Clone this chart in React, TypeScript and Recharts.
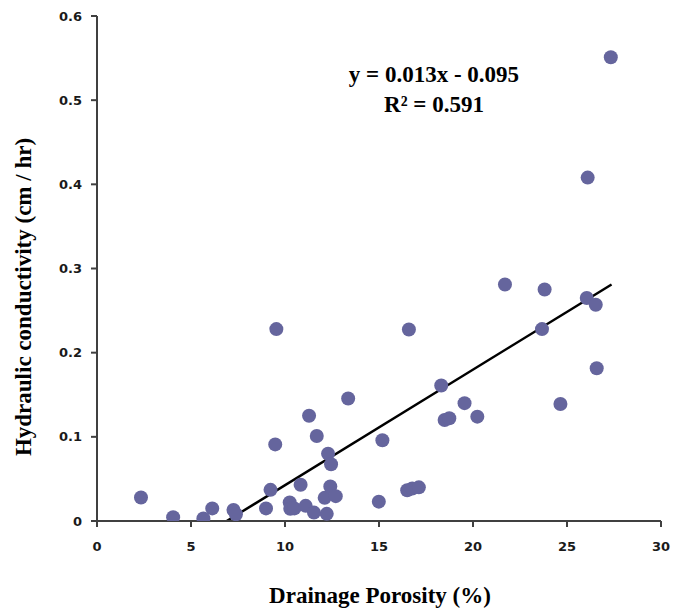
import React from 'react';
import { ScatterChart, Scatter, XAxis, YAxis, ReferenceLine } from 'recharts';

const porosity = [
  2.34, 4.05, 5.66, 6.13, 7.26, 7.39, 8.99, 9.23, 9.48, 9.54,
  10.25, 10.28, 10.5, 10.83, 11.1, 11.28, 11.54, 11.69, 12.22, 12.11,
  12.29, 12.45, 12.41, 12.7, 13.36, 14.99, 15.18, 16.59, 16.5, 16.77,
  17.12, 18.31, 18.49, 18.74, 19.55, 20.23, 21.7, 23.81, 23.67, 24.65,
  26.05, 26.53, 26.58, 27.33, 26.1,
];
const conductivity = [
  0.028, 0.0045, 0.003, 0.015, 0.013, 0.008, 0.015, 0.037, 0.091, 0.228,
  0.022, 0.0145, 0.015, 0.043, 0.018, 0.125, 0.01, 0.101, 0.0085, 0.0275,
  0.08, 0.0675, 0.041, 0.0295, 0.1455, 0.023, 0.096, 0.2275, 0.0366, 0.0386,
  0.04, 0.161, 0.12, 0.122, 0.14, 0.124, 0.281, 0.275, 0.228, 0.139,
  0.265, 0.257, 0.1815, 0.551, 0.408,
];
const trendStart = { x: 6.9, y: 0 };
const trendEnd = { x: 27.37, y: 0.281 };
const xTicks = [0, 5, 10, 15, 20, 25, 30];
const yTicks = [0, 0.1, 0.2, 0.3, 0.4, 0.5, 0.6];
const equationText = 'y = 0.013x - 0.095';
const r2Text = 'R² = 0.591';
const xTitle = 'Drainage Porosity (%)';
const yTitle = 'Hydraulic conductivity (cm / hr)';

const points = porosity.map((x, i) => ({ x, y: conductivity[i] }));

const axisColor = '#404040';
const tickStyle = { fill: '#1a1a1a', fontSize: 13, fontFamily: 'DejaVu Sans', fontWeight: 'bold' as const };
const titleFont = { fontFamily: 'Liberation Serif', fontWeight: 'bold' as const, fontSize: 23, fill: '#000' };

const Dot = (p: any) => <circle cx={p.cx} cy={p.cy} r={7} fill="#65659d" />;

export default function App() {
  return (
    <div style={{ position: 'absolute', left: 0, top: 0, width: 673, height: 613, background: '#fff' }}>
      <ScatterChart width={673} height={613} margin={{ top: 16, right: 12, bottom: 0, left: 0 }}>
        <XAxis
          type="number"
          dataKey="x"
          domain={[0, 30]}
          ticks={xTicks}
          height={92}
          tickSize={6}
          tickMargin={15}
          tick={tickStyle}
          axisLine={{ stroke: axisColor, strokeWidth: 2 }}
          tickLine={{ stroke: axisColor, strokeWidth: 2 }}
          allowDataOverflow
        />
        <YAxis
          type="number"
          dataKey="y"
          domain={[0, 0.6]}
          ticks={yTicks}
          width={97}
          tickSize={6}
          tickMargin={9}
          tick={tickStyle}
          axisLine={{ stroke: axisColor, strokeWidth: 2 }}
          tickLine={{ stroke: axisColor, strokeWidth: 2 }}
          tickFormatter={(v: number) => (v === 0 ? '0' : String(v))}
          allowDataOverflow
        />
        <Scatter data={points} shape={Dot} isAnimationActive={false} />
        <ReferenceLine segment={[trendStart, trendEnd]} stroke="#000" strokeWidth={2.5} ifOverflow="visible" />
      </ScatterChart>
      <svg width={673} height={613} style={{ position: 'absolute', left: 0, top: 0, pointerEvents: 'none' }}>
        <text x={434} y={82} textAnchor="middle" {...titleFont}>{equationText}</text>
        <text x={434} y={112} textAnchor="middle" {...titleFont}>{r2Text}</text>
        <text x={380} y={603} textAnchor="middle" {...titleFont}>{xTitle}</text>
        <text x={31} y={297} textAnchor="middle" transform="rotate(-90 31 297)" {...titleFont}>{yTitle}</text>
      </svg>
    </div>
  );
}
